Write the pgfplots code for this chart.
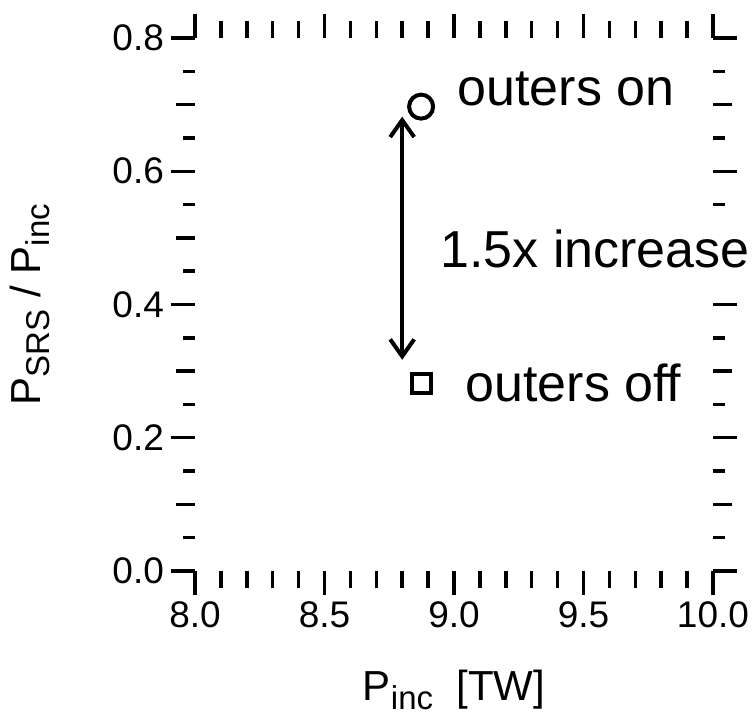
\documentclass[border=0pt]{standalone}
\usepackage{fontspec}
\setmainfont{Liberation Sans}
\usepackage{pgfplots}
\pgfplotsset{compat=1.18}
\usetikzlibrary{arrows.meta}
\newcommand{\sub}[1]{\raisebox{-0.22em}{\fontsize{16.5}{18}\selectfont #1}}
\begin{document}
\begin{tikzpicture}
\begin{axis}[
  scale only axis, width=259pt, height=266.5pt,
  xmin=8, xmax=10, ymin=0, ymax=0.8,
  clip=false,
  axis line style={draw=none},
  tick align=outside,
  xtick={8,8.5,9,9.5,10},
  ytick={0,0.2,0.4,0.6,0.8},
  minor x tick num=0,
  minor y tick num=3,
  major tick length=12pt,
  minor tick length=6pt,
  extra x ticks={8.1,8.2,8.3,8.4,8.6,8.7,8.8,8.9,9.1,9.2,9.3,9.4,9.6,9.7,9.8,9.9},
  extra x tick labels={},
  extra x tick style={major tick length=8.5pt},
  extra y ticks={0.1,0.3,0.5,0.7},
  extra y tick labels={},
  extra y tick style={major tick length=9.5pt},
  tick style={black, line width=1.75pt},
  scaled ticks=false,
  tick label style={font=\fontsize{18.5}{20}\selectfont},
  xticklabel style={/pgf/number format/fixed, /pgf/number format/fixed zerofill, /pgf/number format/precision=1},
  yticklabel style={/pgf/number format/fixed, /pgf/number format/fixed zerofill, /pgf/number format/precision=1},
  /pgf/number format/assume math mode=true,
  xlabel={P\sub{inc}\ \ [TW]},
  ylabel={P\sub{SRS} / P\sub{inc}},
  label style={font=\fontsize{21}{24}\selectfont},
  xlabel style={at={(axis description cs:0.5,-0.2433)}, anchor=base},
  ylabel style={at={(axis description cs:-0.2992,0.5)}, anchor=base},
]
\addplot[only marks, mark=o, mark size=6pt, line width=2pt, black] coordinates {(8.873,0.697)};
\addplot[only marks, mark=square, mark size=4.75pt, line width=2pt, black] coordinates {(8.873,0.281)};
\draw[line width=2pt, {Straight Barb[length=8.5pt,width=12pt]}-{Straight Barb[length=8.5pt,width=12pt]}] (axis cs:8.80,0.317) -- (axis cs:8.80,0.682);
\coordinate (ton) at (axis cs:9.012,0.699);
\coordinate (tinc) at (axis cs:8.946,0.4548);
\coordinate (toff) at (axis cs:9.043,0.2537);
\coordinate (sw) at (rel axis cs:0,0);
\coordinate (ne) at (rel axis cs:1,1);
\end{axis}
\begin{scope}[every node/.style={anchor=base west, inner xsep=0pt, inner ysep=3pt, fill=white, font=\fontsize{26}{30}\selectfont}]
\node at (ton) {outers on};
\node at (tinc) {1.5x increase};
\node at (toff) {outers off};
\end{scope}
\pgfresetboundingbox
\path ([shift={(-97.5pt,-72pt)}]sw) rectangle ([shift={(21pt,19pt)}]ne);
\end{tikzpicture}
\end{document}
